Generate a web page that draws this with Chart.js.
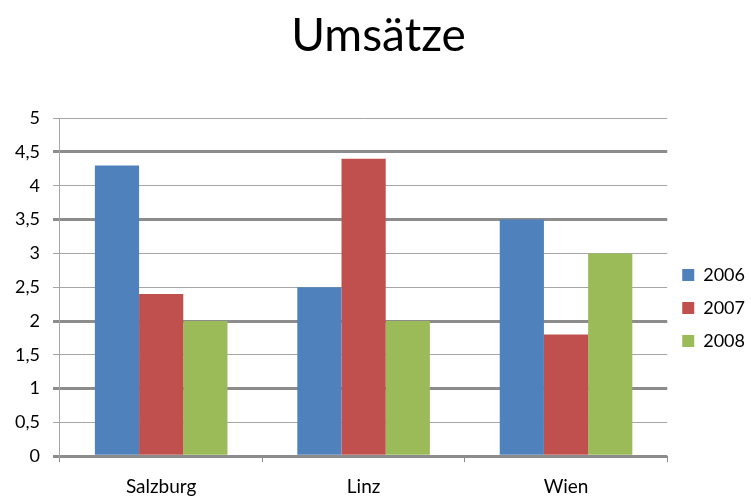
<!DOCTYPE html>
<html>
<head>
<meta charset="utf-8">
<script src="https://cdn.jsdelivr.net/npm/chart.js@4"></script>
<style>
  html, body { margin: 0; padding: 0; background: #fff; }
  #wrap { width: 751px; height: 497px; }
</style>
</head>
<body>
<div id="wrap"><canvas id="umsatz"></canvas></div>
<script>
var cities = ["Salzburg", "Linz", "Wien"];
var years = ["2006", "2007", "2008"];
var sales2006 = [4.3, 2.5, 3.5];
var sales2007 = [2.4, 4.4, 1.8];
var sales2008 = [2.0, 2.0, 3.0];
var yearColors = ["#4F81BD", "#C0504D", "#9BBB59"];
// gridlines that look heavier in the original
var heavyLines = [0, 1, 2, 3.5, 4.5];

var fontName = "Lato, 'Open Sans', sans-serif";

var umsatzData = {
    type: 'bar',
    data: {
        labels: cities,
        datasets: [sales2006, sales2007, sales2008].map(function(values, i) {
            return {
                label: years[i],
                data: values,
                backgroundColor: yearColors[i],
                borderWidth: 0,
                barPercentage: 1,
                categoryPercentage: 0.655
            };
        })
    },
    options: {
        responsive: true,
        maintainAspectRatio: false,
        animation: false,
        layout: {
            padding: { left: 2, right: -4, top: 0, bottom: -14 }
        },
        plugins: {
            title: {
                display: true,
                text: 'Umsätze',
                color: '#000',
                font: { family: fontName, size: 46, weight: 'normal' },
                padding: { top: 9, bottom: 54 }
            },
            legend: {
                position: 'right',
                title: {
                    // empty title just pushes the entries down
                    display: true,
                    text: ' ',
                    font: { size: 1 },
                    padding: { top: 52, bottom: 52 }
                },
                labels: {
                    color: '#000',
                    boxWidth: 12,
                    boxHeight: 12,
                    padding: 15,
                    font: { family: fontName, size: 18 }
                }
            },
            tooltip: { enabled: false }
        },
        scales: {
            x: {
                grid: {
                    offset: true,
                    drawOnChartArea: false,
                    drawTicks: true,
                    tickLength: 6,
                    color: '#8C8C8C'
                },
                border: { display: false },
                ticks: {
                    color: '#000',
                    padding: 13,
                    font: { family: fontName, size: 19 }
                }
            },
            y: {
                min: 0,
                max: 5,
                grid: {
                    tickLength: 7,
                    color: function(ctx) {
                        return heavyLines.indexOf(ctx.tick && ctx.tick.value) >= 0 ? '#8C8C8C' : '#A6A6A6';
                    },
                    lineWidth: function(ctx) {
                        return heavyLines.indexOf(ctx.tick && ctx.tick.value) >= 0 ? 3 : 1;
                    }
                },
                border: { display: true, color: '#A6A6A6', width: 1 },
                ticks: {
                    stepSize: 0.5,
                    color: '#000',
                    padding: 13,
                    font: { family: fontName, size: 18 },
                    callback: function(v) {
                        return String(v).replace('.', ',');
                    }
                }
            }
        }
    }
};

var umsatzChart = document.getElementById("umsatz").getContext("2d");
window.umsatz = new Chart(umsatzChart, umsatzData);
</script>
</body>
</html>
